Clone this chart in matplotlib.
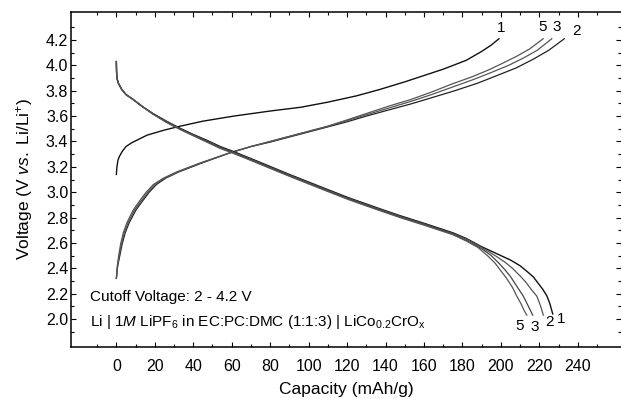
import matplotlib
matplotlib.use("Agg")
import matplotlib.pyplot as plt
from matplotlib.ticker import FixedLocator

plt.rcParams['font.family'] = ['Liberation Sans', 'DejaVu Sans']
plt.rcParams['mathtext.fontset'] = 'custom'
plt.rcParams['mathtext.rm'] = 'Liberation Sans'
plt.rcParams['mathtext.it'] = 'Liberation Sans:italic'

# charge curves (capacity mAh/g, voltage V)
chg1_cap = [0, 0.3, 0.8, 1.5, 3, 5, 8, 12, 16, 25, 33, 45, 61, 80, 96, 110, 125, 137, 150, 160, 170, 182, 190, 195, 199]
chg1_v = [3.14, 3.20, 3.25, 3.28, 3.32, 3.36, 3.39, 3.42, 3.45, 3.49, 3.52, 3.56, 3.60, 3.64, 3.67, 3.71, 3.76, 3.81, 3.87, 3.92, 3.97, 4.04, 4.11, 4.16, 4.21]

chg2_cap = [0, 0.7, 1.8, 3.0, 4.6, 6.7, 10.2, 13.6, 17.1, 20.8, 25.6, 32.5, 44.5, 59, 70, 80, 90, 100, 110, 120, 130, 142, 153, 164, 176, 188, 198, 208, 217, 225, 233]
chg2_v = [2.32, 2.42, 2.50, 2.59, 2.68, 2.76, 2.86, 2.93, 3.00, 3.06, 3.11, 3.16, 3.23, 3.31, 3.36, 3.395, 3.435, 3.475, 3.515, 3.555, 3.60, 3.65, 3.695, 3.745, 3.80, 3.86, 3.92, 3.98, 4.05, 4.12, 4.21]

chg3_cap = [0, 0.6, 1.5, 2.6, 4.1, 6.1, 9.5, 12.8, 16.3, 20, 25, 32, 44, 59, 70, 80, 90, 100, 110, 120, 130, 142, 153, 164, 175, 186, 196, 204, 212, 219, 226.5]
chg3_v = [2.32, 2.42, 2.50, 2.59, 2.68, 2.76, 2.86, 2.93, 3.00, 3.06, 3.11, 3.16, 3.23, 3.31, 3.36, 3.40, 3.44, 3.48, 3.52, 3.565, 3.61, 3.665, 3.715, 3.77, 3.83, 3.89, 3.95, 4.00, 4.06, 4.12, 4.21]

chg5_cap = [0, 0.5, 1.2, 2.2, 3.6, 5.5, 8.8, 12, 15.5, 19.2, 24.4, 31.4, 43.5, 59, 70, 80, 90, 100, 110, 120, 130, 142, 153, 164, 174, 185, 193, 200, 208, 215, 222]
chg5_v = [2.32, 2.42, 2.50, 2.59, 2.68, 2.76, 2.86, 2.93, 3.00, 3.06, 3.11, 3.16, 3.23, 3.31, 3.36, 3.40, 3.44, 3.48, 3.52, 3.57, 3.62, 3.68, 3.73, 3.79, 3.85, 3.91, 3.96, 4.01, 4.07, 4.13, 4.21]

# discharge curves
dis1_cap = [0, 0.1, 0.3, 1, 2.8, 5, 8.8, 14, 19, 26, 33, 40, 47, 54, 61, 70, 78, 90, 100, 110, 121, 135, 147.5, 160, 175, 182, 190, 195, 200, 205, 210, 214, 217, 220, 222, 224, 225.5, 227]
dis1_v = [4.03, 3.95, 3.90, 3.86, 3.81, 3.77, 3.73, 3.67, 3.62, 3.56, 3.505, 3.455, 3.41, 3.36, 3.32, 3.265, 3.215, 3.14, 3.08, 3.02, 2.955, 2.88, 2.815, 2.755, 2.68, 2.635, 2.57, 2.535, 2.50, 2.465, 2.42, 2.37, 2.33, 2.27, 2.23, 2.18, 2.12, 2.04]

dis2_cap = [0, 0.1, 0.3, 1, 2.8, 5, 8.8, 14, 19, 26, 33, 40, 47, 54, 61, 70, 78, 90, 100, 110, 121, 135, 147.5, 160, 175, 182, 190, 197, 202, 206, 210, 213, 216, 218.7, 220.5, 222.1]
dis2_v = [4.03, 3.95, 3.90, 3.86, 3.81, 3.77, 3.73, 3.67, 3.62, 3.56, 3.50, 3.45, 3.405, 3.355, 3.315, 3.26, 3.21, 3.135, 3.075, 3.015, 2.95, 2.875, 2.81, 2.75, 2.675, 2.63, 2.565, 2.50, 2.45, 2.40, 2.34, 2.29, 2.23, 2.18, 2.11, 2.03]

dis3_cap = [0, 0.1, 0.3, 1, 2.8, 5, 8.8, 14, 19, 26, 33, 40, 47, 54, 61, 70, 78, 90, 100, 110, 121, 135, 147.5, 160, 175, 182, 190, 195, 199, 202, 205, 208, 211.7, 214, 216.6]
dis3_v = [4.03, 3.95, 3.90, 3.86, 3.81, 3.77, 3.73, 3.67, 3.62, 3.555, 3.50, 3.45, 3.40, 3.35, 3.31, 3.255, 3.205, 3.13, 3.07, 3.01, 2.945, 2.87, 2.805, 2.745, 2.67, 2.62, 2.555, 2.50, 2.44, 2.39, 2.335, 2.265, 2.18, 2.11, 2.03]

dis5_cap = [0, 0.1, 0.3, 1, 2.8, 5, 8.8, 14, 19, 26, 33, 40, 47, 54, 61, 70, 78, 90, 100, 110, 121, 135, 147.5, 160, 175, 182, 188, 193, 197, 200, 203, 206, 208.3, 210.5, 212, 213.5]
dis5_v = [4.03, 3.95, 3.90, 3.86, 3.81, 3.77, 3.73, 3.67, 3.615, 3.55, 3.495, 3.445, 3.395, 3.345, 3.305, 3.25, 3.20, 3.125, 3.065, 3.005, 2.94, 2.865, 2.80, 2.74, 2.665, 2.615, 2.565, 2.50, 2.44, 2.38, 2.32, 2.25, 2.18, 2.12, 2.07, 2.03]

xticks_major = [0, 20, 40, 60, 80, 100, 120, 140, 160, 180, 200, 220, 240]
xticks_minor = [-10, 10, 30, 50, 70, 90, 110, 130, 150, 170, 190, 210, 230, 250]
yticks_major = [2.0, 2.2, 2.4, 2.6, 2.8, 3.0, 3.2, 3.4, 3.6, 3.8, 4.0, 4.2]
yticks_minor = [1.9, 2.1, 2.3, 2.5, 2.7, 2.9, 3.1, 3.3, 3.5, 3.7, 3.9, 4.1, 4.3]

fig = plt.figure(figsize=(6.21, 3.99), dpi=100)
ax = fig.add_axes([71/621, 52.5/399, 550/621, 334.5/399])

ax.plot(chg1_cap, chg1_v, color='#111111', lw=1.0)
ax.plot(chg2_cap, chg2_v, color='#222222', lw=0.9)
ax.plot(chg3_cap, chg3_v, color='#555555', lw=0.9)
ax.plot(chg5_cap, chg5_v, color='#555555', lw=0.9)
ax.plot(dis1_cap, dis1_v, color='#111111', lw=1.0)
ax.plot(dis2_cap, dis2_v, color='#555555', lw=0.9)
ax.plot(dis3_cap, dis3_v, color='#444444', lw=0.9)
ax.plot(dis5_cap, dis5_v, color='#555555', lw=0.9)

ax.set_xlim(-23.6, 262.5)
ax.set_ylim(1.783, 4.421)

ax.xaxis.set_major_locator(FixedLocator(xticks_major))
ax.xaxis.set_minor_locator(FixedLocator(xticks_minor))
ax.yaxis.set_major_locator(FixedLocator(yticks_major))
ax.yaxis.set_minor_locator(FixedLocator(yticks_minor))
ax.set_yticklabels([f'{v:.1f}' for v in yticks_major])

ax.tick_params(which='both', direction='in', top=True, right=True, width=0.8)
ax.tick_params(which='major', length=3.6, labelsize=11.5)
ax.tick_params(axis='x', which='major', pad=9)
ax.tick_params(axis='y', which='major', pad=2)
ax.tick_params(which='minor', length=2.4)

for s in ['left', 'top', 'bottom']:
    ax.spines[s].set_linewidth(1.1)
ax.spines['right'].set_visible(False)

ax.set_xlabel('Capacity (mAh/g)', fontsize=12.5, labelpad=5.5)
ax.set_ylabel('Voltage (V $\\mathit{vs.}$ Li/Li$^{+}$)', fontsize=12.5, labelpad=7.5)

# curve numbers
ax.text(200.1, 4.293, '1', fontsize=11, ha='center', va='center')
ax.text(221.8, 4.305, '5', fontsize=11, ha='center', va='center')
ax.text(229.1, 4.305, '3', fontsize=11, ha='center', va='center')
ax.text(239.1, 4.274, '2', fontsize=11, ha='center', va='center')
ax.text(209.5, 1.945, '5', fontsize=11, ha='center', va='center')
ax.text(217.8, 1.937, '3', fontsize=11, ha='center', va='center')
ax.text(225.2, 1.976, '2', fontsize=11, ha='center', va='center')
ax.text(231.3, 2.000, '1', fontsize=11, ha='center', va='center')

ax.text(0.0345, 0.149, 'Cutoff Voltage: 2 - 4.2 V', transform=ax.transAxes,
        fontsize=11, ha='left', va='center')
ax.text(0.0345, 0.074,
        'Li | 1$\\mathit{M}$ LiPF$_{6}$ in EC:PC:DMC (1:1:3) | LiCo$_{0.2}$CrO$_{\\mathrm{x}}$',
        transform=ax.transAxes, fontsize=11, ha='left', va='center')

fig.savefig('out.png', dpi=100)
